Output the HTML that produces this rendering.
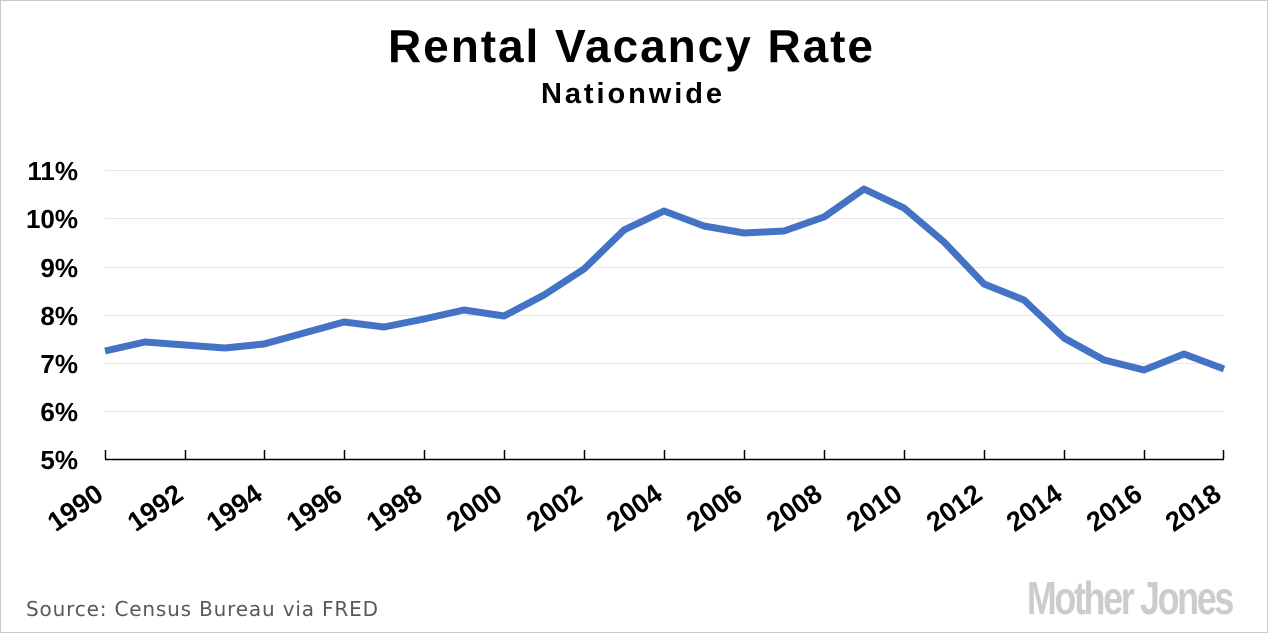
<!DOCTYPE html>
<html><head><meta charset="utf-8"><style>
html,body{margin:0;padding:0;background:#fff}
svg{display:block}
</style></head><body>
<svg width="1268" height="633" xmlns="http://www.w3.org/2000/svg" font-family="'Liberation Sans', sans-serif">
<rect x="0.5" y="0.5" width="1267" height="632" fill="#fff" stroke="#c8c8c8"/>
<text x="388" y="62" font-size="46" font-weight="bold" fill="#000" textLength="485" lengthAdjust="spacing">Rental Vacancy Rate</text>
<text x="541" y="103" font-size="29" font-weight="bold" fill="#000" textLength="181" lengthAdjust="spacing">Nationwide</text>
<g stroke="#e6e6e6" stroke-width="1">
<line x1="105" x2="1224" y1="170.5" y2="170.5"/>
<line x1="105" x2="1224" y1="218.5" y2="218.5"/>
<line x1="105" x2="1224" y1="267.5" y2="267.5"/>
<line x1="105" x2="1224" y1="315.5" y2="315.5"/>
<line x1="105" x2="1224" y1="363.5" y2="363.5"/>
<line x1="105" x2="1224" y1="411.5" y2="411.5"/>
</g>
<g font-size="26" font-weight="bold" text-anchor="end" fill="#000">
<text x="78" y="180">11%</text>
<text x="78" y="228">10%</text>
<text x="78" y="277">9%</text>
<text x="78" y="325">8%</text>
<text x="78" y="373">7%</text>
<text x="78" y="421">6%</text>
<text x="78" y="469">5%</text>
</g>
<line x1="105" x2="1224" y1="459.5" y2="459.5" stroke="#000" stroke-width="1.5"/>
<g stroke="#000" stroke-width="1.5">
<line x1="105.5" x2="105.5" y1="450" y2="459"/><line x1="185.5" x2="185.5" y1="450" y2="459"/><line x1="264.5" x2="264.5" y1="450" y2="459"/><line x1="344.5" x2="344.5" y1="450" y2="459"/><line x1="424.5" x2="424.5" y1="450" y2="459"/><line x1="504.5" x2="504.5" y1="450" y2="459"/><line x1="584.5" x2="584.5" y1="450" y2="459"/><line x1="664.5" x2="664.5" y1="450" y2="459"/><line x1="744.5" x2="744.5" y1="450" y2="459"/><line x1="824.5" x2="824.5" y1="450" y2="459"/><line x1="904.5" x2="904.5" y1="450" y2="459"/><line x1="984.5" x2="984.5" y1="450" y2="459"/><line x1="1064.5" x2="1064.5" y1="450" y2="459"/><line x1="1144.5" x2="1144.5" y1="450" y2="459"/><line x1="1223.5" x2="1223.5" y1="450" y2="459"/>
</g>
<g font-size="27" font-weight="bold" text-anchor="end" fill="#000">
<text transform="translate(105,498) rotate(-35)">1990</text>
<text transform="translate(185,498) rotate(-35)">1992</text>
<text transform="translate(264,498) rotate(-35)">1994</text>
<text transform="translate(344,498) rotate(-35)">1996</text>
<text transform="translate(424,498) rotate(-35)">1998</text>
<text transform="translate(504,498) rotate(-35)">2000</text>
<text transform="translate(584,498) rotate(-35)">2002</text>
<text transform="translate(664,498) rotate(-35)">2004</text>
<text transform="translate(744,498) rotate(-35)">2006</text>
<text transform="translate(824,498) rotate(-35)">2008</text>
<text transform="translate(904,498) rotate(-35)">2010</text>
<text transform="translate(984,498) rotate(-35)">2012</text>
<text transform="translate(1064,498) rotate(-35)">2014</text>
<text transform="translate(1144,498) rotate(-35)">2016</text>
<text transform="translate(1223,498) rotate(-35)">2018</text>
</g>
<polyline fill="none" stroke="#4472c4" stroke-width="7" stroke-linejoin="round" points="105,351 145,342 185,345 225,348 264,344 304,333 344,322 384,327 424,319 464,310 504,316 544,295 584,269 624,230 664,211 704,226 744,233 784,231 824,217 864,189 904,208 944,242 984,284 1024,300 1064,338 1104,360 1144,370 1184,354 1224,369"/>
<text x="26" y="616" font-family="'DejaVu Sans', sans-serif" font-size="20" fill="#595959" textLength="352" lengthAdjust="spacing">Source: Census Bureau via FRED</text>
<text x="1232" y="614" text-anchor="end" font-size="46" font-weight="bold" fill="#cccccc" letter-spacing="-3" transform="translate(1232,0) scale(0.78,1) translate(-1232,0)">Mother Jones</text>
</svg>
</body></html>
